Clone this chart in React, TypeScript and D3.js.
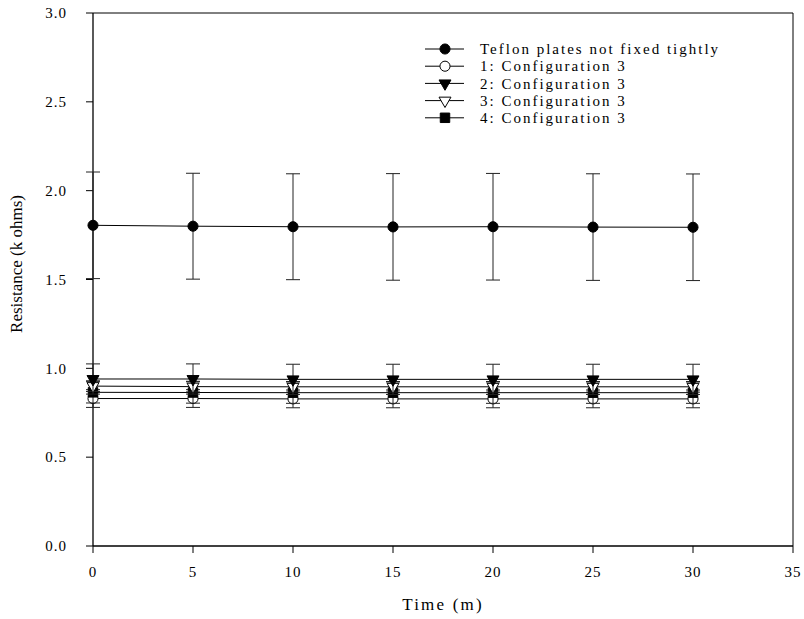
import React from 'react';
import * as d3 from 'd3';

const times = [0, 5, 10, 15, 20, 25, 30];

const teflon = [1.805, 1.8, 1.797, 1.796, 1.797, 1.795, 1.794];
const teflonErr = [0.3, 0.298, 0.298, 0.3, 0.3, 0.3, 0.3];
const config1 = [0.83, 0.83, 0.828, 0.828, 0.828, 0.828, 0.828];
const config1Err = [0.05, 0.05, 0.05, 0.05, 0.05, 0.05, 0.05];
const config2 = [0.94, 0.94, 0.938, 0.938, 0.938, 0.938, 0.938];
const config2Err = [0.085, 0.085, 0.085, 0.085, 0.085, 0.085, 0.085];
const config3 = [0.9, 0.897, 0.896, 0.896, 0.896, 0.896, 0.896];
const config3Err = [0.03, 0.03, 0.03, 0.03, 0.03, 0.03, 0.03];
const config4 = [0.865, 0.864, 0.863, 0.863, 0.863, 0.863, 0.863];
const config4Err = [0.06, 0.06, 0.06, 0.06, 0.06, 0.06, 0.06];

const xTicks = [0, 5, 10, 15, 20, 25, 30, 35];
const yTicks = [0, 0.5, 1.0, 1.5, 2.0, 2.5, 3.0];

const series = [
  { name: 'Teflon plates not fixed tightly', values: teflon, err: teflonErr, shape: 'circle', filled: true },
  { name: '1: Configuration 3', values: config1, err: config1Err, shape: 'circle', filled: false },
  { name: '2: Configuration 3', values: config2, err: config2Err, shape: 'triangle', filled: true },
  { name: '3: Configuration 3', values: config3, err: config3Err, shape: 'triangle', filled: false },
  { name: '4: Configuration 3', values: config4, err: config4Err, shape: 'square', filled: true },
];

const W = 804;
const H = 619;
const margin = { top: 13, right: 11, bottom: 73, left: 93 };
const FONT = "'Liberation Serif', 'DejaVu Serif', serif";

const symbolPath = (shape: string) => {
  if (shape === 'circle') return d3.symbol(d3.symbolCircle, 80)();
  if (shape === 'triangle') return d3.symbol(d3.symbolTriangle, 62)();
  return d3.symbol(d3.symbolSquare, 90)();
};

const Marker = ({ s, x, y }: any) => (
  <path
    d={symbolPath(s.shape) || ''}
    transform={`translate(${x},${y})${s.shape === 'triangle' ? ' rotate(180)' : ''}`}
    fill={s.filled ? '#000' : '#fff'}
    stroke="#000"
    strokeWidth={1}
  />
);

export default function App() {
  const x = d3.scaleLinear().domain([0, 35]).range([margin.left, W - margin.right]);
  const y = d3.scaleLinear().domain([0, 3]).range([H - margin.bottom, margin.top]);
  const line = d3.line<number>().x((d, i) => x(times[i])).y(d => y(d));
  const capW = 7;

  // draw order: bottom series first so filled triangle ends on top
  const drawOrder = [0, 1, 4, 3, 2];

  return (
    <svg width={W} height={H} style={{ position: 'absolute', left: 0, top: 0, background: '#fff', fontFamily: FONT }}>
      {/* frame */}
      <line x1={x(0)} x2={x(35)} y1={y(3)} y2={y(3)} stroke="#000" strokeWidth={1} />
      <line x1={x(35)} x2={x(35)} y1={y(3)} y2={y(0)} stroke="#000" strokeWidth={1} />
      <line x1={x(0)} x2={x(35)} y1={y(0)} y2={y(0)} stroke="#000" strokeWidth={1.3} />
      <line x1={x(0)} x2={x(0)} y1={y(3)} y2={y(0)} stroke="#000" strokeWidth={1.3} />

      {/* y ticks */}
      {yTicks.map(t => (
        <g key={'y' + t}>
          <line x1={x(0) - 7} x2={x(0)} y1={y(t)} y2={y(t)} stroke="#000" strokeWidth={1} />
          <text x={x(0) - 26} y={y(t)} dy="0.35em" textAnchor="end" fontSize={15} letterSpacing={1}>
            {d3.format('.1f')(t)}
          </text>
        </g>
      ))}

      {/* x ticks */}
      {xTicks.map(t => (
        <g key={'x' + t}>
          <line x1={x(t)} x2={x(t)} y1={y(0)} y2={y(0) + 7} stroke="#000" strokeWidth={1} />
          <text x={x(t)} y={577} textAnchor="middle" fontSize={15} letterSpacing={1}>
            {t}
          </text>
        </g>
      ))}

      <text x={(x(0) + x(35)) / 2} y={610} textAnchor="middle" fontSize={17} letterSpacing={2.2}>
        Time (m)
      </text>
      <text transform={`translate(22,264) rotate(-90)`} textAnchor="middle" fontSize={17}>
        Resistance (k ohms)
      </text>

      {/* series */}
      {drawOrder.map(k => {
        const s = series[k];
        return (
          <g key={s.name}>
            {s.values.map((v, i) => (
              <g key={i} stroke="#222" strokeWidth={1}>
                <line x1={x(times[i])} x2={x(times[i])} y1={y(v + s.err[i])} y2={y(v - s.err[i])} />
                <line x1={x(times[i]) - capW} x2={x(times[i]) + capW} y1={y(v + s.err[i])} y2={y(v + s.err[i])} />
                <line x1={x(times[i]) - capW} x2={x(times[i]) + capW} y1={y(v - s.err[i])} y2={y(v - s.err[i])} />
              </g>
            ))}
            <path d={line(s.values) || ''} fill="none" stroke="#000" strokeWidth={1} />
            {s.values.map((v, i) => (
              <Marker key={'m' + i} s={s} x={x(times[i])} y={y(v)} />
            ))}
          </g>
        );
      })}

      {/* legend */}
      {series.map((s, i) => {
        const ly = 49 + i * 17.2;
        return (
          <g key={'leg' + i}>
            <line x1={425} x2={464} y1={ly} y2={ly} stroke="#000" strokeWidth={1} />
            <Marker s={s} x={445} y={ly} />
            <text x={480} y={ly} dy="0.35em" fontSize={15} letterSpacing={2}>
              {s.name}
            </text>
          </g>
        );
      })}
    </svg>
  );
}
